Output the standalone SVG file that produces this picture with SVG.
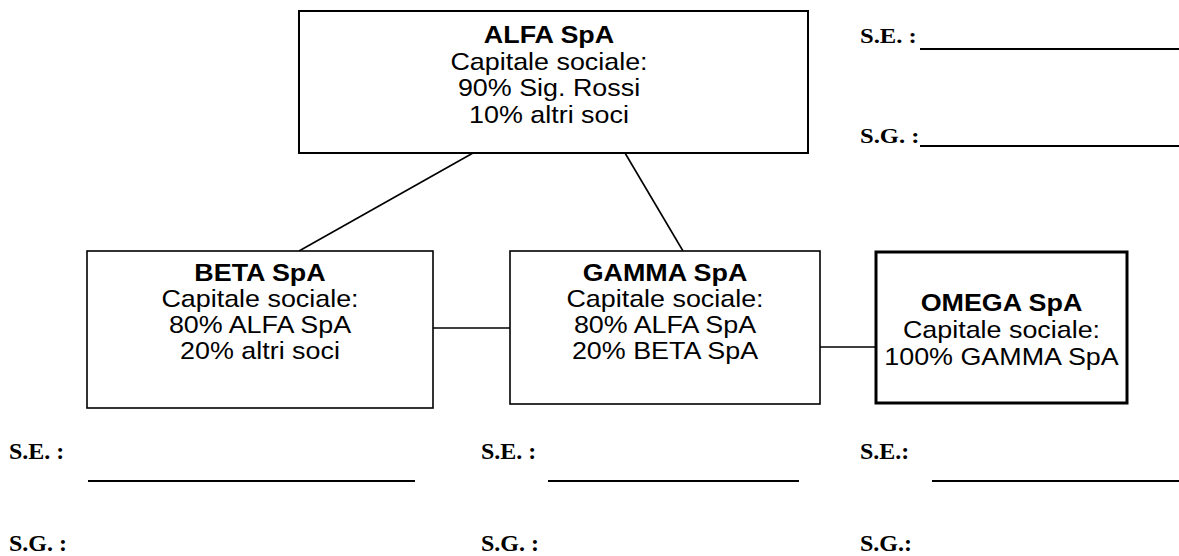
<svg xmlns="http://www.w3.org/2000/svg" width="1179" height="556" viewBox="0 0 1179 556">
<style>
.box{fill:#fff;stroke:#000;stroke-width:1.6}
.t{font-family:"Liberation Sans",Arial,sans-serif;font-size:24px;text-anchor:middle;fill:#000}
.b{font-weight:bold}
.lbl{font-family:"Liberation Serif","Times New Roman",serif;font-weight:bold;font-size:22px;fill:#000}
.lb2{font-family:"Liberation Serif","Times New Roman",serif;font-weight:bold;font-size:24px;fill:#000}
.conn line{stroke:#000;stroke-width:1.6}
.ul{stroke:#000;stroke-width:2}
</style>
<rect width="1179" height="556" fill="#fff"/>
<g id="connectors" class="conn">
<line x1="473" y1="153" x2="299" y2="251"/>
<line x1="625" y1="153" x2="683" y2="251"/>
<line x1="433" y1="328" x2="510" y2="328"/>
<line x1="820" y1="347" x2="876" y2="347"/>
</g>
<g id="alfa">
<rect class="box" x="299" y="11" width="509" height="142" style="stroke-width:2"/>
<text class="t b" transform="translate(549,43) scale(1.12,1)">ALFA SpA</text>
<text class="t" transform="translate(549,69.5) scale(1.12,1)">Capitale sociale:</text>
<text class="t" transform="translate(549,96) scale(1.12,1)">90% Sig. Rossi</text>
<text class="t" transform="translate(549,122.5) scale(1.12,1)">10% altri soci</text>
</g>
<g id="beta">
<rect class="box" x="87" y="251" width="346" height="157"/>
<text class="t b" transform="translate(260,281) scale(1.12,1)">BETA SpA</text>
<text class="t" transform="translate(260,307) scale(1.12,1)">Capitale sociale:</text>
<text class="t" transform="translate(260,333) scale(1.12,1)">80% ALFA SpA</text>
<text class="t" transform="translate(260,359) scale(1.12,1)">20% altri soci</text>
</g>
<g id="gamma">
<rect class="box" x="510" y="251" width="310" height="153"/>
<text class="t b" transform="translate(665,281) scale(1.12,1)">GAMMA SpA</text>
<text class="t" transform="translate(665,307) scale(1.12,1)">Capitale sociale:</text>
<text class="t" transform="translate(665,333) scale(1.12,1)">80% ALFA SpA</text>
<text class="t" transform="translate(665,359) scale(1.12,1)">20% BETA SpA</text>
</g>
<g id="omega">
<rect class="box" x="876" y="252" width="251" height="151" style="stroke-width:3"/>
<text class="t b" transform="translate(1001.5,311) scale(1.12,1)">OMEGA SpA</text>
<text class="t" transform="translate(1001.5,338) scale(1.12,1)">Capitale sociale:</text>
<text class="t" transform="translate(1001.5,365) scale(1.12,1)">100% GAMMA SpA</text>
</g>
<g id="fields">
<text class="lbl" transform="translate(860,43) scale(1.12,1)">S.E. :</text>
<line class="ul" x1="920" y1="49" x2="1179" y2="49"/>
<text class="lbl" transform="translate(860,143) scale(1.12,1)">S.G. :</text>
<line class="ul" x1="920" y1="146" x2="1179" y2="146"/>
<text class="lb2" x="9" y="459">S.E. :</text>
<line class="ul" x1="88" y1="481" x2="415" y2="481"/>
<text class="lb2" x="9" y="551">S.G. :</text>
<text class="lb2" x="481" y="459">S.E. :</text>
<line class="ul" x1="548" y1="481" x2="799" y2="481"/>
<text class="lb2" x="481" y="551">S.G. :</text>
<text class="lb2" x="860" y="459">S.E.:</text>
<line class="ul" x1="932" y1="481" x2="1179" y2="481"/>
<text class="lb2" x="860" y="551">S.G.:</text>
</g>
</svg>
